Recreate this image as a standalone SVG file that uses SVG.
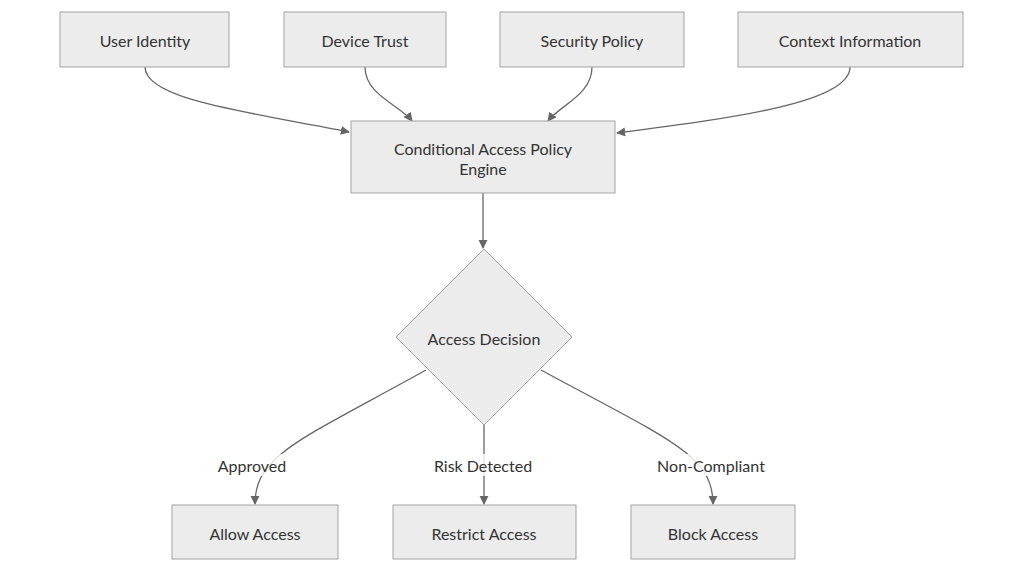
<svg xmlns="http://www.w3.org/2000/svg" width="1024" height="573" viewBox="0 0 1024 573">
<style>
.n{fill:#ececec;stroke:#a3a3a3;stroke-width:1}
.t{font-family:Lato,"Open Sans",sans-serif;font-size:16px;fill:#333;text-anchor:middle;dominant-baseline:central}
.e{fill:none;stroke:#666;stroke-width:1.3;marker-end:url(#a)}
.lb{fill:#fff;opacity:.8}
</style>
<defs><marker id="a" viewBox="0 0 10 10" refX="9" refY="5" markerWidth="7" markerHeight="7" orient="auto"><path d="M0,0L10,5L0,10z" fill="#666"/></marker></defs>
<rect width="1024" height="573" fill="#fff"/>
<g id="edges">
<path class="e" d="M145,67 C145,100 250,112 349,132"/>
<path class="e" d="M365,67 C365,95 400,105 412,121"/>
<path class="e" d="M592,67 C592,95 560,105 548,121"/>
<path class="e" d="M850,67 C850,102 740,117 617,133"/>
<path class="e" d="M483,193 L483,248"/>
<path class="e" d="M426,370 C300,440 255,455 255,504"/>
<path class="e" d="M484,425 L484,504"/>
<path class="e" d="M541,370 C670,440 713,455 713,504"/>
<rect class="lb" x="212" y="454" width="80" height="22"/>
<text class="t" x="252" y="465">Approved</text>
<rect class="lb" x="426" y="454" width="114" height="22"/>
<text class="t" x="483" y="465">Risk Detected</text>
<rect class="lb" x="650" y="454" width="122" height="22"/>
<text class="t" x="711" y="465">Non-Compliant</text>
</g>
<g id="userIdentity"><rect class="n" x="60" y="12" width="169" height="55"/><text class="t" x="145" y="40">User Identity</text></g>
<g id="deviceTrust"><rect class="n" x="284" y="12" width="162" height="55"/><text class="t" x="365" y="40">Device Trust</text></g>
<g id="securityPolicy"><rect class="n" x="500" y="12" width="184" height="55"/><text class="t" x="592" y="40">Security Policy</text></g>
<g id="contextInformation"><rect class="n" x="738" y="12" width="225" height="55"/><text class="t" x="850" y="40">Context Information</text></g>
<g id="engine"><rect class="n" x="351" y="121" width="264" height="72"/><text class="t" x="483" y="148">Conditional Access Policy</text><text class="t" x="483" y="168">Engine</text></g>
<g id="decision"><path class="n" d="M484,249 L572,337 L484,425 L396,337 Z"/><text class="t" x="484" y="338">Access Decision</text></g>
<g id="allow"><rect class="n" x="172" y="505" width="166" height="54"/><text class="t" x="255" y="533">Allow Access</text></g>
<g id="restrict"><rect class="n" x="393" y="505" width="183" height="54"/><text class="t" x="484" y="533">Restrict Access</text></g>
<g id="block"><rect class="n" x="631" y="505" width="164" height="54"/><text class="t" x="713" y="533">Block Access</text></g>
</svg>
